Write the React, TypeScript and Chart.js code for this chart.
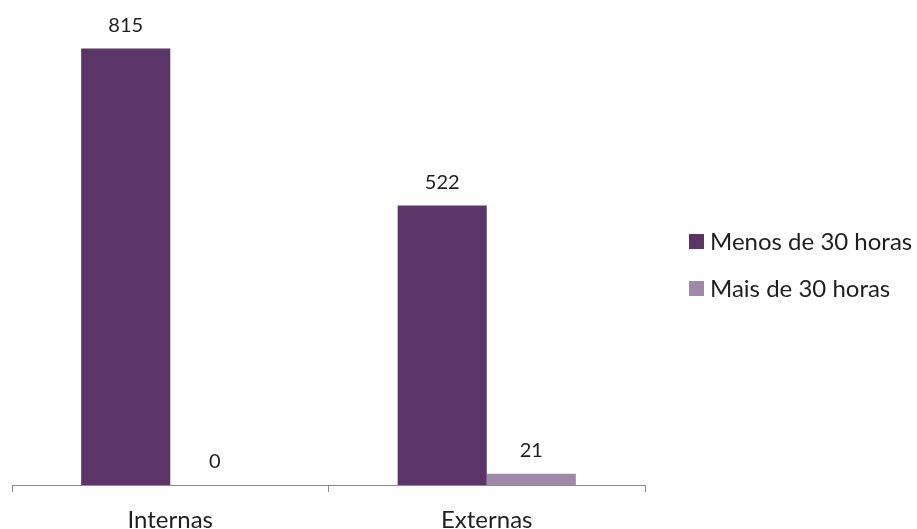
import React, { useEffect, useRef } from "react";
import { Chart, registerables } from "chart.js";

Chart.register(...registerables);

const categories = ["Internas", "Externas"];
const seriesNames = ["Menos de 30 horas", "Mais de 30 horas"];
const menosValues = [815, 522];
const maisValues = [0, 21];
const seriesColors = ["#5B3468", "#9E8AA8"];

const FONT = "Lato, 'Open Sans', sans-serif";
const TEXT = "#1f1f1f";

const valueLabels = {
  id: "valueLabels",
  afterDatasetsDraw(chart: any) {
    const ctx = chart.ctx;
    ctx.save();
    ctx.font = `20px ${FONT}`;
    ctx.fillStyle = TEXT;
    ctx.textAlign = "center";
    ctx.textBaseline = "middle";
    chart.data.datasets.forEach((ds: any, i: number) => {
      const meta = chart.getDatasetMeta(i);
      meta.data.forEach((bar: any, j: number) => {
        ctx.fillText(String(ds.data[j]), bar.x, bar.y - 23);
      });
    });
    ctx.restore();
  },
};

const sideLegend = {
  id: "sideLegend",
  afterDraw(chart: any) {
    const ctx = chart.ctx;
    ctx.save();
    ctx.font = `24px ${FONT}`;
    ctx.textAlign = "left";
    ctx.textBaseline = "middle";
    const x0 = 689;
    const ys = [241, 288];
    chart.data.datasets.forEach((ds: any, i: number) => {
      const y = ys[i];
      ctx.fillStyle = ds.backgroundColor;
      ctx.fillRect(x0, y - 7, 15, 15);
      ctx.fillStyle = TEXT;
      ctx.fillText(ds.label, x0 + 21, y + 1);
    });
    ctx.restore();
  },
};

export default function App() {
  const ref = useRef<HTMLCanvasElement | null>(null);
  useEffect(() => {
    document.body.style.margin = "0";
    if (!ref.current) return;
    const chart = new Chart(ref.current, {
      type: "bar",
      data: {
        labels: categories,
        datasets: [
          { label: seriesNames[0], data: menosValues, backgroundColor: seriesColors[0] },
          { label: seriesNames[1], data: maisValues, backgroundColor: seriesColors[1] },
        ],
      },
      options: {
        responsive: false,
        animation: false,
        layout: { padding: { left: 12, right: 272, top: 3, bottom: -19 } },
        datasets: {
          bar: { categoryPercentage: 0.563, barPercentage: 1 },
        },
        plugins: {
          legend: { display: false },
          tooltip: { enabled: false },
        },
        scales: {
          x: {
            offset: true,
            grid: {
              display: true,
              offset: true,
              drawOnChartArea: false,
              drawTicks: true,
              tickLength: 7,
              color: "#8a8a8a",
            },
            border: { display: true, color: "#8a8a8a", width: 1 },
            ticks: {
              color: TEXT,
              font: { family: FONT, size: 24, lineHeight: 1 },
              padding: 16,
            },
          },
          y: {
            display: false,
            min: 0,
            max: 900,
          },
        },
      },
      plugins: [valueLabels, sideLegend],
    });
    return () => chart.destroy();
  }, []);
  return (
    <div style={{ width: 917, height: 529 }}>
      <canvas ref={ref} width={917} height={529} />
    </div>
  );
}
